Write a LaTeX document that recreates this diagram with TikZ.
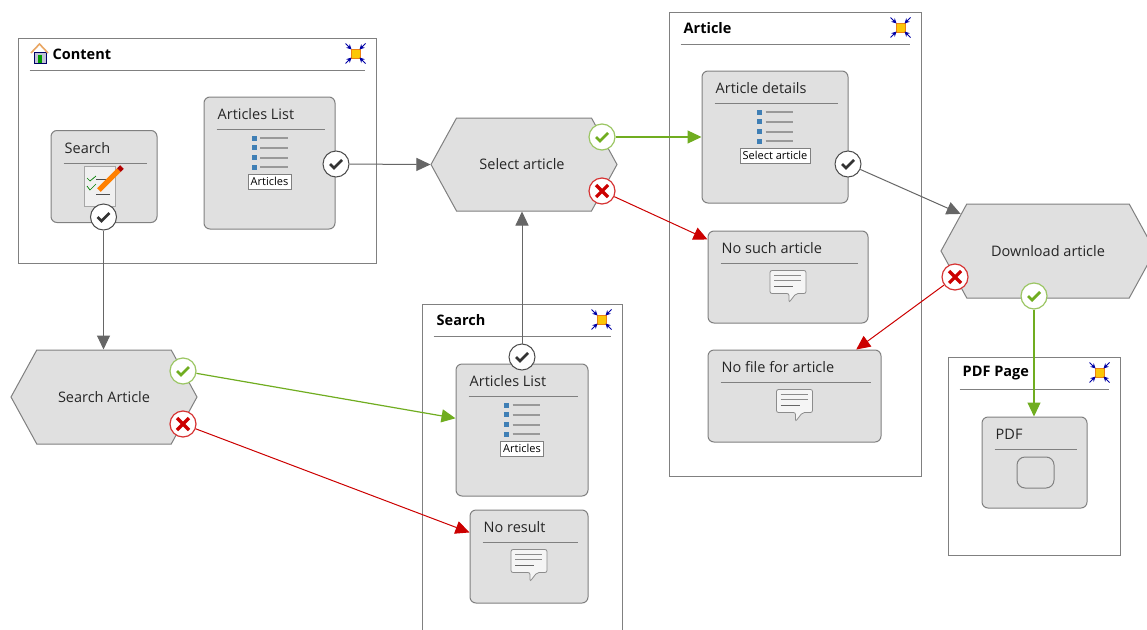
\documentclass[tikz,border=0pt]{standalone}
\usepackage{fontspec}
\setmainfont{Open Sans}
\usepackage{pgf,tikz}
\usetikzlibrary{arrows.meta,calc,shapes.symbols}
\definecolor{boxgray}{HTML}{E0E0E0}
\definecolor{edgegray}{HTML}{808080}
\definecolor{okgreen}{HTML}{70AD20}
\definecolor{kored}{HTML}{CC0000}
\definecolor{iconblue}{HTML}{3F7FB5}
\tikzstyle{pagebox} = [draw=edgegray, fill=white, line width=1pt, inner sep=0pt]
\tikzstyle{unitbox} = [draw=edgegray, fill=boxgray, line width=1pt, rounded corners=6pt, inner sep=0pt]
\tikzstyle{hexbox} = [draw=edgegray, fill=boxgray, line width=1pt, inner sep=0pt, text=black!85, font=\fontsize{14.5}{16}\selectfont, signal, signal to=west and east, signal pointer angle=122.5]
\tikzstyle{headrule} = [draw=edgegray, line width=1pt]
\tikzstyle{pagetitle} = [anchor=west, inner sep=0pt, font=\fontsize{14.5}{16}\selectfont\bfseries]
\tikzstyle{unittitle} = [anchor=west, inner sep=0pt, text=black!85, font=\fontsize{14.5}{16}\selectfont]
\tikzstyle{fieldbox} = [draw=edgegray, fill=white, line width=0.8pt, inner sep=0pt, minimum height=15pt]
\tikzstyle{fieldtext} = [inner sep=0pt, font=\fontsize{11}{12}\selectfont]
\tikzstyle{donepin} = [circle, draw=black!70, fill=white, line width=1pt, minimum size=26pt, inner sep=0pt]
\tikzstyle{okpin} = [circle, draw=okgreen!70, fill=white, line width=1.2pt, minimum size=26pt, inner sep=0pt]
\tikzstyle{kopin} = [circle, draw=kored!80, fill=white, line width=1.2pt, minimum size=26pt, inner sep=0pt]
\tikzstyle{donelink} = [draw=black!60, line width=1pt, -{Triangle[length=14pt,width=13pt]}]
\tikzstyle{oklink} = [draw=okgreen, line width=1.2pt, -{Triangle[length=14pt,width=13pt]}]
\tikzstyle{kolink} = [draw=kored, line width=1pt, -{Triangle[length=14pt,width=13pt]}]
% name, centre x, centre y, width, height, title
\newcommand{\drawpage}[6]{
	\node[pagebox, minimum width=#4pt, minimum height=#5pt](#1) at (#2,#3) {};
	\node[pagetitle](#1title) at ($(#1.north west)+(15,17)$) {#6};
	\draw[headrule] ($(#1.north west)+(12,33)$) -- ($(#1.north east)+(-12,33)$);
	\collapseicon{$(#1.north east)+(-21,16)$}
}
\newcommand{\drawunit}[6]{
	\node[unitbox, minimum width=#4pt, minimum height=#5pt](#1) at (#2,#3) {};
	\node[unittitle](#1title) at ($(#1.north west)+(14,18)$) {#6};
	\draw[headrule] ($(#1.north west)+(13,33)$) -- ($(#1.north east)+(-11,33)$);
}
\newcommand{\collapseicon}[1]{
	\begin{scope}[shift={(#1)}]
		\fill[yellow!60!orange, draw=orange!70!brown, line width=0.5pt] (-4.5,-4.5) rectangle (4.5,4.5);
		\foreach \sx in {-1,1} \foreach \sy in {-1,1}
			\draw[blue!65!black, line width=1pt, -{Stealth[length=5pt,width=5pt]}] (\sx*10,\sy*10) -- (\sx*4,\sy*4);
	\end{scope}
}
% unit name, width of the field
\newcommand{\listicon}[2]{
	\begin{scope}[shift={(#1.north)}]
		\foreach \dy in {41.5,51,61,70.5} {
			\fill[iconblue] (-18,\dy-2.5) rectangle (-13,\dy+2.5);
			\draw[black!40, line width=2pt] (-9.5,\dy) -- (18,\dy);
		}
		\node[fieldbox, minimum width=#2pt](#1field) at (0,85) {};
	\end{scope}
}
\newcommand{\commenticon}[1]{
	\begin{scope}[shift={(#1.north)}]
		\draw[black!45, fill=gray!8, line width=0.8pt, rounded corners=2pt] (-18,40) -- (18,40) -- (18,63) -- (8,63) -- (1,72) -- (1,63) -- (-18,63) -- cycle;
		\draw[black!45, line width=1pt] (-14,45) -- (13,45) (-14,50) -- (13,50);
		\draw[black!60, line width=1.6pt] (-14,56) -- (5,56);
	\end{scope}
}
\newcommand{\checkmark}[2]{\draw[#2, line width=2.8pt] ($(#1)+(-6,0)$) -- ($(#1)+(-2,4)$) -- ($(#1)+(6,-4)$);}
\newcommand{\crossmark}[1]{\draw[kored, line width=3.2pt] ($(#1)+(-6,-6)$) -- ($(#1)+(6,6)$) ($(#1)+(-6,6)$) -- ($(#1)+(6,-6)$);}
\begin{document}
\begin{tikzpicture}[x=1pt,y=-1pt]
	\clip (0,0) rectangle (1147,629);
	\fill[white] (0,0) rectangle (1147,629);
	\drawpage{contentpage}{197}{150.5}{358}{225}{\hspace*{20pt}Content}
	\drawpage{searchpage}{522}{480}{200}{352}{Search}
	\drawpage{articlepage}{795}{244}{252}{464}{Article}
	\drawpage{pdfpage}{1034}{456}{172}{198}{PDF Page}
	% house of the content page
	\fill[blue!20!gray!40, draw=blue!40!black, line width=0.6pt] (34,52) rectangle (46,63);
	\fill[green!60!black] (38,55) rectangle (42,63);
	\draw[orange!50!brown!70, line width=1.6pt] (31,53) -- (39.5,44) -- (48,53);
	\drawunit{searchform}{104}{176.5}{106}{92}{Search}
	\drawunit{articleslist}{269.5}{163}{131}{132}{Articles List}
	\drawunit{resultslist}{522}{430}{132}{132}{Articles List}
	\drawunit{noresult}{529}{556.5}{118}{93}{No result}
	\drawunit{articledetails}{775}{137}{146}{132}{Article details}
	\drawunit{nosucharticle}{788}{277}{160}{92}{No such article}
	\drawunit{nofile}{794.5}{396}{173}{92}{No file for article}
	\drawunit{pdfunit}{1034.5}{462.5}{105}{91}{PDF}
	\node[unitbox, minimum width=37pt, minimum height=31pt, rounded corners=8pt](pdfframe) at (1035.5,472.5) {};
	\listicon{articleslist}{43}
	\node[fieldtext](articleslisttext) at (articleslistfield) {Articles};
	\listicon{resultslist}{43}
	\node[fieldtext](resultslisttext) at (resultslistfield) {Articles};
	\listicon{articledetails}{70}
	\node[fieldtext](articledetailstext) at (articledetailsfield) {Select article};
	\commenticon{noresult}
	\commenticon{nosucharticle}
	\commenticon{nofile}
	% form icon of the search unit
	\draw[black!35, fill=gray!12, line width=0.8pt] (84,166) rectangle (115,206);
	\draw[green!50!black, line width=0.7pt] (87,178) -- (90,181) -- (96,176) (87,186) -- (90,190) -- (96,184);
	\draw[black!70, line width=0.8pt] (96,179) -- (110,179) (96,194) -- (110,194);
	\draw[orange, line width=5pt] (99,190) -- (119,170);
	\draw[red!70!black, line width=5pt] (119,170) -- (122,167);
	\node[hexbox, minimum width=186pt, minimum height=93pt](selectarticle) at (524,164.5) {\hspace*{-4pt}Select article};
	\node[hexbox, minimum width=186pt, minimum height=94pt](searcharticle) at (104,397) {Search Article};
	\node[hexbox, minimum width=214pt, minimum height=94pt](downloadarticle) at (1048,251) {Download article};
	\node[donepin](formdone) at (103.5,217) {};
	\checkmark{formdone}{black!80}
	\node[donepin](listdone) at (336,164) {};
	\checkmark{listdone}{black!80}
	\node[donepin](resultsdone) at (522,357) {};
	\checkmark{resultsdone}{black!80}
	\node[donepin](detailsdone) at (848,164) {};
	\checkmark{detailsdone}{black!80}
	\node[okpin](selectok) at (602,137) {};
	\checkmark{selectok}{okgreen}
	\node[kopin](selectko) at (602,191) {};
	\crossmark{selectko}
	\node[okpin](searchok) at (183,371) {};
	\checkmark{searchok}{okgreen}
	\node[kopin](searchko) at (183,424) {};
	\crossmark{searchko}
	\node[okpin](downloadok) at (1034,296) {};
	\checkmark{downloadok}{okgreen}
	\node[kopin](downloadko) at (955,277) {};
	\crossmark{downloadko}
	\draw[donelink] (listdone) -- (selectarticle.west);
	\draw[donelink] (formdone) -- (searcharticle.north -| formdone);
	\draw[donelink] (resultsdone) -- (selectarticle.south -| resultsdone);
	\draw[donelink] (detailsdone) -- (downloadarticle.157);
	\draw[oklink] (selectok) -- (articledetails.west);
	\draw[oklink] (searchok) -- (resultslist.170);
	\draw[oklink] (downloadok) -- (pdfunit.north -| downloadok);
	\draw[kolink] (selectko) -- (nosucharticle.155);
	\draw[kolink] (searchko) -- (noresult.158);
	\draw[kolink] (downloadko) -- (nofile.37);
\end{tikzpicture}
\end{document}
